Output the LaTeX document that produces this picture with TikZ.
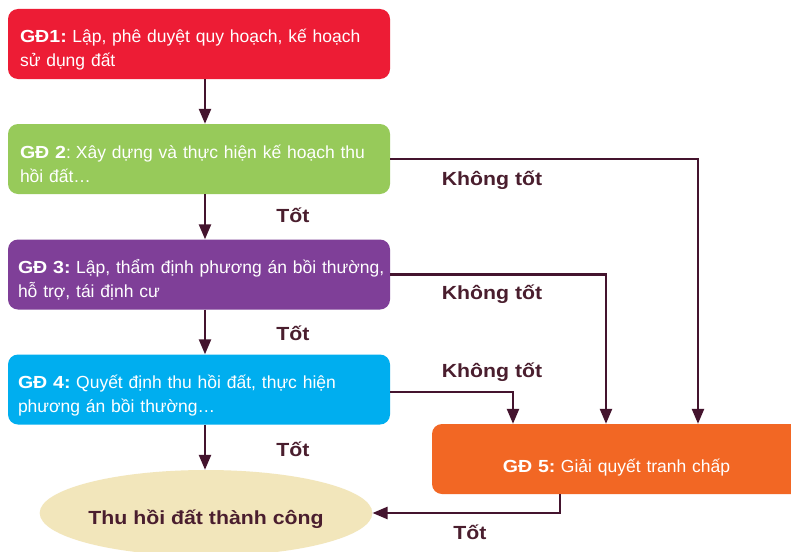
\documentclass[tikz,border=0pt]{standalone}
\usepackage{fontspec}
\setmainfont{Liberation Sans}
\newfontfamily\wideb[FakeStretch=1.12]{Liberation Sans Bold}
\usetikzlibrary{arrows.meta,shapes.geometric}

\definecolor{gdred}{HTML}{ED1C35}
\definecolor{gdgreen}{HTML}{97CA5A}
\definecolor{gdpurple}{HTML}{7F3F98}
\definecolor{gdcyan}{HTML}{00AEEF}
\definecolor{gdorange}{HTML}{F26724}
\definecolor{gdbeige}{HTML}{F2E6BB}
\definecolor{arrowc}{HTML}{44142E}
\definecolor{labc}{HTML}{4A1E2E}

% one unbreakable line of box text
\newcommand\boxline[1]{\mbox{#1}}
% bold stage tag followed by a tight gap
\newcommand\tag[1]{{\wideb #1}\hspace{5.5pt}}

\tikzset{
  stage/.style={rounded corners=10pt, minimum width=382pt, minimum height=70pt,
    text width=358pt, align=left, text=white, inner sep=0pt,
    text height=29pt, text depth=31pt,
    font=\fontsize{17.5}{24}\selectfont},
  flow/.style={draw=arrowc, line width=2.4pt,
    -{Triangle[length=15pt,width=12pt]}},
  lab/.style={text=labc, font=\wideb\fontsize{19}{21}\selectfont, inner sep=0pt},
  goal/.style={ellipse, fill=gdbeige, minimum width=332pt, minimum height=86pt,
    inner sep=0pt, text height=22pt, text depth=0pt,
    text=labc, font=\wideb\fontsize{19}{21}\selectfont},
}

\begin{document}
\begin{tikzpicture}[x=1pt,y=-1pt]
  \clip (0,0) rectangle (791,551);
  \fill[white] (0,0) rectangle (791,551);

  % stages
  \node[stage, fill=gdred] (g1) at (199,44)
    {\boxline{\tag{GĐ1:}Lập, phê duyệt quy hoạch, kế hoạch}\\
     \boxline{sử dụng đất}};
  \node[stage, fill=gdgreen] (g2) at (199,159)
    {\boxline{{\wideb GĐ 2}:\hspace{5pt}Xây dựng và thực hiện kế hoạch thu}\\
     \boxline{hồi đất\ldots}};
  \node[stage, fill=gdpurple, text width=362pt] (g3) at (199,274.5)
    {\boxline{\tag{GĐ 3:}Lập, thẩm định phương án bồi thường,}\\
     \boxline{hỗ trợ, tái định cư}};
  \node[stage, fill=gdcyan, text width=362pt] (g4) at (199,389.5)
    {\boxline{\tag{GĐ 4:}Quyết định thu hồi đất, thực hiện}\\
     \boxline{phương án bồi thường\ldots}};
  \node[stage, fill=gdorange, minimum width=369pt, text width=300pt, align=center,
    text height=32pt, text depth=6pt]
    (g5) at (616.5,459)
    {\tag{GĐ 5:}Giải quyết tranh chấp};
  \node[goal] (ok) at (206,513) {Thu hồi đất thành công};

  % main flow
  \draw[flow] ([xshift=6pt]g1.south) -- ([xshift=6pt]g2.north);
  \draw[flow] ([xshift=6pt]g2.south) -- ([xshift=6pt]g3.north);
  \draw[flow] ([xshift=6pt]g3.south) -- ([xshift=6pt]g4.north);
  \draw[flow] ([xshift=6pt]g4.south) -- ([xshift=-1pt]ok.north);

  % failure branches
  \draw[flow] (g2.east) -| ([xshift=81.5pt]g5.north);
  \draw[flow] (g3.east) -| ([xshift=-10.5pt]g5.north);
  \draw[flow] ([yshift=-2.5pt]g4.east) -| ([xshift=-103.5pt]g5.north);
  \draw[flow] ([xshift=-56.5pt]g5.south) |- (ok.east);

  % labels
  \node[lab] (t1) at (293,215) {Tốt};
  \node[lab] (t2) at (293,333) {Tốt};
  \node[lab] (t3) at (293,449) {Tốt};
  \node[lab] (t4) at (470,532) {Tốt};
  \node[lab] (k1) at (492,180) {Không tốt};
  \node[lab] (k2) at (492,294) {Không tốt};
  \node[lab] (k3) at (492,372) {Không tốt};
\end{tikzpicture}
\end{document}
